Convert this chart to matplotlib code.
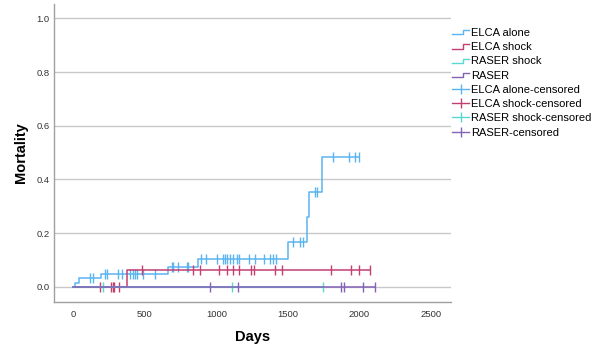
import numpy as np
import matplotlib
matplotlib.use('Agg')
import matplotlib.pyplot as plt
from matplotlib.lines import Line2D
from matplotlib.legend_handler import HandlerBase

plt.rcParams['font.family'] = ['Liberation Sans', 'DejaVu Sans']

# === DATA ===
groups = ['ELCA alone', 'ELCA shock', 'RASER shock', 'RASER']
colors = ['#5AB4F0', '#C43E72', '#5AD8D2', '#8262B8']

# event times (days) and cumulative mortality after each step
elca_alone_t = [0, 12, 40, 194, 665, 870, 1499, 1632, 1650, 1737]
elca_alone_m = [0, 0.015, 0.031, 0.047, 0.073, 0.104, 0.165, 0.259, 0.352, 0.482]
elca_shock_t = [0, 373]
elca_shock_m = [0, 0.062]
raser_shock_t = [0]
raser_shock_m = [0]
raser_t = [0]
raser_m = [0]

# censored times (days)
elca_alone_c = [117, 135, 222, 233, 310, 338, 396, 415, 431, 448, 489, 571, 688, 700,
                734, 793, 804, 893, 926, 1003, 1045, 1061, 1077, 1096, 1114, 1147, 1161,
                1231, 1271, 1336, 1376, 1399, 1415, 1534, 1585, 1602, 1686, 1702, 1818,
                1930, 1970, 2000]
elca_shock_c = [187, 264, 275, 287, 322, 478, 835, 886, 1019, 1073, 1116, 1156, 1243,
                1262, 1410, 1457, 1802, 1942, 2000, 2075]
raser_shock_c = [205, 1108, 1746]
raser_c = [958, 1150, 1871, 1890, 2024, 2112]

series = [
    (elca_alone_t, elca_alone_m, elca_alone_c),
    (elca_shock_t, elca_shock_m, elca_shock_c),
    (raser_shock_t, raser_shock_m, raser_shock_c),
    (raser_t, raser_m, raser_c),
]


class StepHandler(HandlerBase):
    """Legend icon shaped like a small step."""
    def create_artists(self, legend, orig_handle, xdescent, ydescent,
                       width, height, fontsize, trans):
        xs = np.array([0, 0.62, 0.62, 1.0]) * width - xdescent
        ys = np.array([0.2, 0.2, 0.75, 0.75]) * height - ydescent
        ln = Line2D(xs, ys, color=orig_handle.get_color(), lw=1.0, transform=trans)
        return [ln]


fig = plt.figure(figsize=(6.02, 3.54), dpi=100)
ax = fig.add_axes([54 / 602, 1 - 301.7 / 354, (451 - 54) / 602, (301.7 - 4) / 354])

for (t, m, c), col in zip(series, colors):
    t = np.array(t, dtype=float)
    m = np.array(m, dtype=float)
    end = max(c)
    ax.step(np.append(t, end), np.append(m, m[-1]), where='post', color=col, lw=1.1)
    idx = np.searchsorted(t, c, side='right') - 1
    ax.plot(c, m[idx], linestyle='none', marker='|', markersize=6.5, mew=1.0, color=col)

ax.set_xlim(-135, 2640)
ax.set_ylim(-0.056, 1.054)
ax.set_xticks([0, 500, 1000, 1500, 2000, 2500])
ax.set_yticks([0, 0.2, 0.4, 0.6, 0.8, 1.0])
ax.set_yticklabels(['0.0', '0.2', '0.4', '0.6', '0.8', '1.0'])
ax.tick_params(length=0, labelsize=6.8, labelcolor='#333333')
ax.tick_params(axis='x', pad=6)
ax.tick_params(axis='y', pad=3)
ax.grid(axis='y', color='#C8C8C8', lw=1.0)
ax.set_axisbelow(True)
for s in ['top', 'right']:
    ax.spines[s].set_visible(False)
for s in ['left', 'bottom']:
    ax.spines[s].set_color('#A0A0A0')
    ax.spines[s].set_linewidth(1.0)

ax.set_xlabel('Days', fontsize=10.5, fontweight='bold', labelpad=8)
ax.set_ylabel('Mortality', fontsize=10.5, fontweight='bold', labelpad=6)

step_handles = [Line2D([], [], color=col) for col in colors]
cens_handles = [Line2D([], [], color=col, lw=1.0, marker='|', markersize=7, mew=1.0)
                for col in colors]
labels = groups + [g + '-censored' for g in groups]
handler_map = {h: StepHandler() for h in step_handles}
fig.legend(step_handles + cens_handles, labels, handler_map=handler_map,
           loc='upper left', bbox_to_anchor=(452 / 602, 1 - 28 / 354),
           frameon=False, fontsize=8, handlelength=1.55, handletextpad=0.2,
           labelspacing=0.38, borderpad=0, borderaxespad=0, numpoints=1)

fig.savefig('out.png', dpi=100)
